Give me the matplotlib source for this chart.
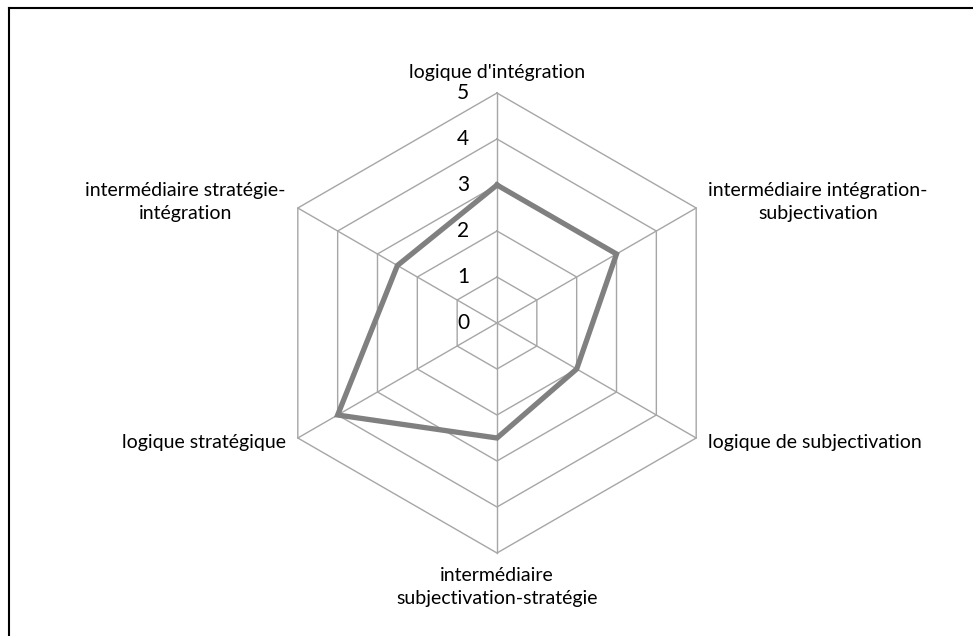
import matplotlib
matplotlib.use('Agg')
import matplotlib.pyplot as plt
import numpy as np

categories = ["logique d'intégration",
              "intermédiaire intégration-\nsubjectivation",
              "logique de subjectivation",
              "intermédiaire\nsubjectivation-stratégie",
              "logique stratégique",
              "intermédiaire stratégie-\nintégration"]
values = [3, 3, 2, 2.5, 4, 2.5]
ticks = [0, 1, 2, 3, 4, 5]

W, H = 973, 636
CX, CY = 497, 323      # centre in pixels (from top-left)
UNIT = 46              # pixels per unit

fig = plt.figure(figsize=(W / 100, H / 100), dpi=100)
fig.patch.set_facecolor('white')
ax = fig.add_axes([0, 0, 1, 1])
ax.set_xlim(-CX / UNIT, (W - CX) / UNIT)
ax.set_ylim(-(H - CY) / UNIT, CY / UNIT)
ax.axis('off')

FONT = ['Lato', 'DejaVu Sans']
GRID = '#a6a6a6'
LINE = '#808080'
FS = 14
LS = 1.45

n = len(categories)
ang = np.pi / 2 - np.arange(n) * 2 * np.pi / n
ux, uy = np.cos(ang), np.sin(ang)

# hexagonal rings
for t in ticks[1:]:
    ax.plot(np.append(ux, ux[0]) * t, np.append(uy, uy[0]) * t, color=GRID, lw=1.0, zorder=1)
# spokes
rmax = ticks[-1]
for i in range(n):
    ax.plot([0, ux[i] * rmax], [0, uy[i] * rmax], color=GRID, lw=1.0, zorder=1)

# tick labels
for t in ticks:
    ax.text(-0.6, t, str(t), ha='right', va='center', fontsize=15, family=FONT, color='black')

# data series
v = np.array(values)
ax.plot(np.append(ux * v, ux[0] * v[0]), np.append(uy * v, uy[0] * v[0]),
        color=LINE, lw=3.8, solid_joinstyle='miter', zorder=3)

# category labels
pad = 0.26
for i, lab in enumerate(categories):
    x, y = ux[i] * rmax, uy[i] * rmax
    if abs(ux[i]) < 1e-6:
        if uy[i] > 0:
            ax.text(x, y + 0.26, lab, ha='center', va='bottom', fontsize=FS, family=FONT,
                    linespacing=LS)
        else:
            ax.text(x, y - 0.3, lab, ha='center', va='top', fontsize=FS, family=FONT,
                    linespacing=LS, multialignment='center')
    else:
        dy = 0.13 if uy[i] > 0 else -0.1
        ax.text(x + (pad if ux[i] > 0 else -pad), y + dy, lab,
                ha='left' if ux[i] > 0 else 'right', va='center',
                fontsize=FS, family=FONT, linespacing=LS, multialignment='center')

# chart area border (top and left edges visible)
fig.add_artist(plt.Line2D([9 / W, 9 / W], [0, 1 - 8 / H], color='black', lw=1.5))
fig.add_artist(plt.Line2D([9 / W, 1], [1 - 8 / H, 1 - 8 / H], color='black', lw=1.5))

fig.savefig('out.png', dpi=100, facecolor='white')
